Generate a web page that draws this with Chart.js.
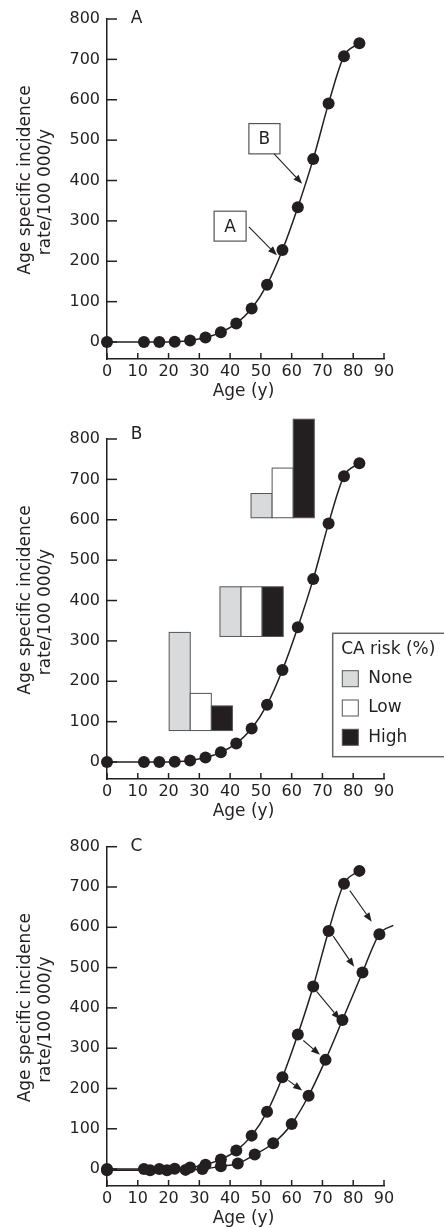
<!DOCTYPE html>
<html>
<head>
<meta charset="utf-8">
<script src="https://cdn.jsdelivr.net/npm/chart.js@4.4.0/dist/chart.umd.min.js"></script>
<style>
html, body { margin: 0; padding: 0; background: #fff; }
#wrap { position: relative; width: 444px; height: 1229px; }
canvas { position: absolute; left: 0; }
</style>
</head>
<body>
<div id="wrap">
  <canvas id="chartA" width="444" height="405" style="top:0px"></canvas>
  <canvas id="chartB" width="444" height="420" style="top:405px"></canvas>
  <canvas id="chartC" width="444" height="404" style="top:825px"></canvas>
</div>
<script>
// axis ticks
const ageTicks = [0, 10, 20, 30, 40, 50, 60, 70, 80, 90];
const rateTicks = [0, 100, 200, 300, 400, 500, 600, 700, 800];

// observed incidence curve
const ages = [0, 12, 17, 22, 27, 32, 37, 42, 47, 52, 57, 62, 67, 72, 77, 82];
const rates = [0, 0, 0, 1, 4, 11, 24, 46, 83, 142, 228, 334, 453, 591, 708, 740];

// shifted curve (panel C)
const agesShifted = [0, 14, 19.5, 25.5, 31, 37, 42.5, 48, 54, 60, 65.5, 71, 76.5, 83, 88.5, 93];
const ratesShifted = [-3, -3, -3, -2, 0, 7, 14, 36, 64, 112, 182, 271, 370, 488, 583, 605];

// panel A callouts (age / rate units)
const calloutText = ['A', 'B'];
const calloutAge = [[34.8, 45.2], [46.1, 56.2]];
const calloutRate = [[324, 250], [541, 466]];
const calloutFrom = [[46.1, 285], [54.3, 466]];
const calloutTo = [[55.2, 215], [63.4, 392]];

// panel B CA risk bars (age / rate units)
const riskLabels = ['None', 'Low', 'High'];
const barGroupAge = [20.2, 36.7, 46.8];
const barGroupBase = [78, 311, 605];
const barNone = [321, 434, 665];
const barLow = [170, 434, 728];
const barHigh = [139, 434, 849];
const barYears = 6.85;

// panel C shift arrows
const shiftFrom = [[78.9, 691], [73.5, 578], [68.1, 441], [63.8, 319], [58.9, 220]];
const shiftTo = [[86.0, 614], [80.3, 502], [75.7, 371], [69.2, 284], [63.4, 195]];

const ink = '#231f20';
const font = '"DejaVu Sans", sans-serif';
const riskColors = ['#d9dadc', '#ffffff', ink];

function toPts(xs, ys) {
    return xs.map((x, i) => ({ x: x, y: ys[i] }));
}

function curve(xs, ys) {
    return {
        data: toPts(xs, ys),
        borderColor: ink,
        borderWidth: 1.5,
        backgroundColor: ink,
        pointBackgroundColor: ink,
        pointBorderColor: ink,
        pointBorderWidth: 0,
        pointRadius: c => (c.dataIndex === xs.length - 1 && xs[c.dataIndex] > 90) ? 0 : 6,
        cubicInterpolationMode: 'monotone',
        clip: false
    };
}

function arrow(ctx, x1, y1, x2, y2) {
    const a = Math.atan2(y2 - y1, x2 - x1);
    const hl = 9, hw = 3.5;
    ctx.strokeStyle = ink;
    ctx.fillStyle = ink;
    ctx.lineWidth = 1.1;
    ctx.beginPath();
    ctx.moveTo(x1, y1);
    ctx.lineTo(x2 - hl * Math.cos(a), y2 - hl * Math.sin(a));
    ctx.stroke();
    ctx.beginPath();
    ctx.moveTo(x2, y2);
    ctx.lineTo(x2 - hl * Math.cos(a) + hw * Math.sin(a), y2 - hl * Math.sin(a) - hw * Math.cos(a));
    ctx.lineTo(x2 - hl * Math.cos(a) - hw * Math.sin(a), y2 - hl * Math.sin(a) + hw * Math.cos(a));
    ctx.closePath();
    ctx.fill();
}

// inner ticks, axis titles, panel letter
const framePlugin = {
    id: 'frame',
    afterDraw(chart, args, opts) {
        const ctx = chart.ctx;
        const x = chart.scales.x, y = chart.scales.y;
        const area = chart.chartArea;
        ctx.save();
        ctx.strokeStyle = ink;
        ctx.lineWidth = 1.5;
        rateTicks.forEach(v => {
            const py = y.getPixelForValue(v);
            ctx.beginPath();
            ctx.moveTo(area.left, py);
            ctx.lineTo(area.left + 10, py);
            ctx.stroke();
        });
        ageTicks.forEach(v => {
            const px = x.getPixelForValue(v);
            ctx.beginPath();
            ctx.moveTo(px, area.bottom);
            ctx.lineTo(px, area.bottom - 6);
            ctx.stroke();
        });
        ctx.fillStyle = ink;
        ctx.textAlign = 'center';
        ctx.textBaseline = 'middle';
        ctx.font = '17px ' + font;
        ctx.fillText(opts.letter, area.left + 29.5, area.top + opts.letterDy);
        ctx.fillText('Age (y)', (area.left + area.right) / 2 - 2, area.bottom + 33);
        ctx.save();
        ctx.translate(26, area.top + 161);
        ctx.rotate(-Math.PI / 2);
        ctx.fillText('Age specific incidence', 0, 0);
        ctx.restore();
        ctx.save();
        ctx.translate(46, area.top + 173);
        ctx.rotate(-Math.PI / 2);
        ctx.fillText('rate/100 000/y', 0, 0);
        ctx.restore();
        ctx.restore();
    }
};

const calloutPlugin = {
    id: 'callouts',
    afterDraw(chart) {
        const ctx = chart.ctx;
        const x = chart.scales.x, y = chart.scales.y;
        ctx.save();
        calloutText.forEach((t, i) => {
            const x0 = x.getPixelForValue(calloutAge[i][0]);
            const x1 = x.getPixelForValue(calloutAge[i][1]);
            const y0 = y.getPixelForValue(calloutRate[i][0]);
            const y1 = y.getPixelForValue(calloutRate[i][1]);
            ctx.fillStyle = '#fff';
            ctx.fillRect(x0, y0, x1 - x0, y1 - y0);
            ctx.strokeStyle = '#555';
            ctx.lineWidth = 1.2;
            ctx.strokeRect(x0, y0, x1 - x0, y1 - y0);
            ctx.fillStyle = ink;
            ctx.font = '17px ' + font;
            ctx.textAlign = 'center';
            ctx.textBaseline = 'middle';
            ctx.fillText(t, (x0 + x1) / 2, (y0 + y1) / 2 + 1);
            arrow(ctx, x.getPixelForValue(calloutFrom[i][0]), y.getPixelForValue(calloutFrom[i][1]),
                x.getPixelForValue(calloutTo[i][0]), y.getPixelForValue(calloutTo[i][1]));
        });
        ctx.restore();
    }
};

const riskPlugin = {
    id: 'risk',
    afterDraw(chart) {
        const ctx = chart.ctx;
        const x = chart.scales.x, y = chart.scales.y;
        const area = chart.chartArea;
        const series = [barNone, barLow, barHigh];
        ctx.save();
        barGroupAge.forEach((a, g) => {
            const base = y.getPixelForValue(barGroupBase[g]);
            series.forEach((s, k) => {
                const x0 = x.getPixelForValue(a + k * barYears);
                const x1 = x.getPixelForValue(a + (k + 1) * barYears);
                const top = y.getPixelForValue(s[g]);
                ctx.fillStyle = riskColors[k];
                ctx.fillRect(x0, top, x1 - x0, base - top);
                ctx.strokeStyle = '#555';
                ctx.lineWidth = 1;
                ctx.strokeRect(x0, top, x1 - x0, base - top);
            });
        });
        // legend box
        const lx = area.right - 51.3, ly = area.top + 194.3;
        ctx.strokeStyle = '#666';
        ctx.lineWidth = 1.5;
        ctx.strokeRect(lx, ly, 130, 123.4);
        ctx.fillStyle = ink;
        ctx.font = '17px ' + font;
        ctx.textAlign = 'left';
        ctx.textBaseline = 'middle';
        ctx.fillText('CA risk (%)', lx + 8.5, ly + 16);
        riskLabels.forEach((t, k) => {
            const cy = ly + 45.4 + k * 29.3;
            ctx.fillStyle = riskColors[k];
            ctx.fillRect(lx + 9.6, cy - 8, 16, 16);
            ctx.strokeStyle = '#555';
            ctx.lineWidth = 1;
            ctx.strokeRect(lx + 9.6, cy - 8, 16, 16);
            ctx.fillStyle = ink;
            ctx.fillText(t, lx + 35.5, cy);
        });
        ctx.restore();
    }
};

const shiftPlugin = {
    id: 'shift',
    afterDraw(chart) {
        const ctx = chart.ctx;
        const x = chart.scales.x, y = chart.scales.y;
        ctx.save();
        shiftFrom.forEach((p, i) => {
            arrow(ctx, x.getPixelForValue(p[0]), y.getPixelForValue(p[1]),
                x.getPixelForValue(shiftTo[i][0]), y.getPixelForValue(shiftTo[i][1]));
        });
        ctx.restore();
    }
};

function makePanel(id, letter, letterDy, padTop, xHeight, datasets, extra) {
    const ctx = document.getElementById(id).getContext('2d');
    return new Chart(ctx, {
        type: 'line',
        data: { datasets: datasets },
        plugins: [framePlugin].concat(extra),
        options: {
            responsive: false,
            animation: false,
            layout: { padding: { top: padTop, right: 60, left: 0, bottom: 0 } },
            scales: {
                x: {
                    type: 'linear',
                    min: 0,
                    max: 90,
                    afterBuildTicks: s => { s.ticks = ageTicks.map(v => ({ value: v })); },
                    afterFit: s => { s.height = xHeight; },
                    grid: { display: false, drawTicks: false },
                    border: { display: true, color: ink, width: 1.5 },
                    ticks: { color: ink, font: { family: font, size: 16 }, padding: 3, maxRotation: 0 }
                },
                y: {
                    type: 'linear',
                    min: -42,
                    max: 800,
                    afterBuildTicks: s => { s.ticks = rateTicks.map(v => ({ value: v })); },
                    afterFit: s => { s.width = 107; },
                    grid: { display: false, drawTicks: false },
                    border: { display: true, color: ink, width: 1.5 },
                    ticks: { color: ink, font: { family: font, size: 16 }, padding: 7 }
                }
            },
            plugins: {
                legend: { display: false },
                tooltip: { enabled: false },
                frame: { letter: letter, letterDy: letterDy }
            }
        }
    });
}

makePanel('chartA', 'A', 0, 19, 46, [curve(ages, rates)], [calloutPlugin]);
makePanel('chartB', 'B', -4, 34, 46, [curve(ages, rates)], [riskPlugin]);
makePanel('chartC', 'C', 0, 21.7, 43, [curve(ages, rates), curve(agesShifted, ratesShifted)], [shiftPlugin]);
</script>
</body>
</html>
